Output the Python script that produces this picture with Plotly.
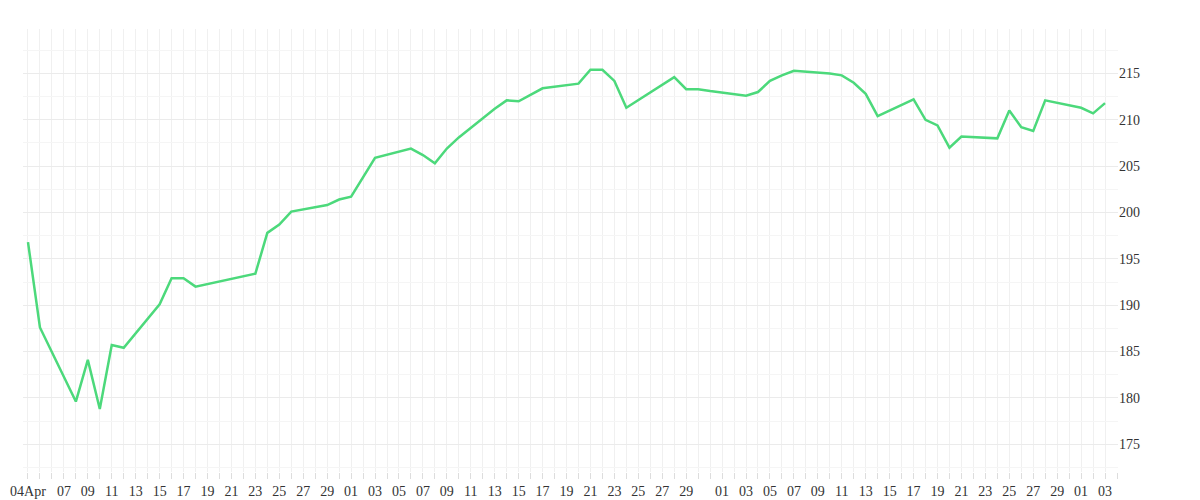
import plotly.graph_objects as go
import pandas as pd

dates = ["2025-04-04","2025-04-05","2025-04-08","2025-04-09","2025-04-10","2025-04-11","2025-04-12",
         "2025-04-15","2025-04-16","2025-04-17","2025-04-18","2025-04-23","2025-04-24","2025-04-25",
         "2025-04-26","2025-04-29","2025-04-30","2025-05-01","2025-05-03","2025-05-06","2025-05-07",
         "2025-05-08","2025-05-09","2025-05-10","2025-05-13","2025-05-14","2025-05-15","2025-05-17",
         "2025-05-20","2025-05-21","2025-05-22","2025-05-23","2025-05-24","2025-05-27","2025-05-28",
         "2025-05-29","2025-05-30","2025-05-31","2025-06-03","2025-06-04","2025-06-05","2025-06-06",
         "2025-06-07","2025-06-10","2025-06-11","2025-06-12","2025-06-13","2025-06-14","2025-06-17",
         "2025-06-18","2025-06-19","2025-06-20","2025-06-21","2025-06-24","2025-06-25","2025-06-26",
         "2025-06-27","2025-06-28","2025-07-01","2025-07-02","2025-07-03"]
values = [196.8,187.6,179.6,184.1,178.8,185.7,185.4,190.1,192.9,192.9,192.0,193.4,197.8,198.7,
          200.1,200.8,201.4,201.7,205.9,206.9,206.2,205.3,206.9,208.1,211.2,212.1,212.0,213.4,
          213.9,215.4,215.4,214.2,211.3,213.8,214.6,213.3,213.3,213.1,212.6,213.0,214.2,214.8,
          215.3,215.0,214.8,214.0,212.8,210.4,212.2,210.0,209.4,207.0,208.2,208.0,211.0,209.2,
          208.8,212.1,211.3,210.7,211.8]

tick_dates = pd.to_datetime(["2025-04-04"] + [f"2025-04-{d:02d}" for d in range(7, 30, 2)]
                            + [f"2025-05-{d:02d}" for d in range(1, 30, 2)]
                            + [f"2025-06-{d:02d}" for d in range(1, 30, 2)]
                            + ["2025-07-01", "2025-07-03"])
tick_text = ["04Apr"] + [d.strftime("%d") for d in tick_dates[1:]]

fig = go.Figure(go.Scatter(x=pd.to_datetime(dates), y=values, mode="lines",
                           line=dict(color="#4cd97b", width=2.5)))
fig.update_layout(
    width=1200, height=500, plot_bgcolor="white", paper_bgcolor="white",
    margin=dict(l=15, r=90, t=21, b=36, autoexpand=False), showlegend=False,
    font=dict(family="Liberation Serif, serif", size=14, color="#333"),
)
fig.update_xaxes(range=["2025-04-03 14:00", "2025-07-04 02:00"], tickvals=tick_dates, ticktext=tick_text,
                 showgrid=False, ticks="outside", ticklen=6, tickcolor="#ddd", automargin=False,
                 minor=dict(dtick=86400000, showgrid=True, gridcolor="#f0f0f0", ticks="outside",
                            ticklen=6, tickcolor="#ddd"), zeroline=False, showline=False)
fig.update_yaxes(side="right", range=[172, 219.8], dtick=5, tick0=175, gridcolor="#ebebeb",
                 minor=dict(dtick=2.5, showgrid=True, gridcolor="#f5f5f5"), zeroline=False,
                 showline=False, automargin=False)
fig.write_html("out.html")
